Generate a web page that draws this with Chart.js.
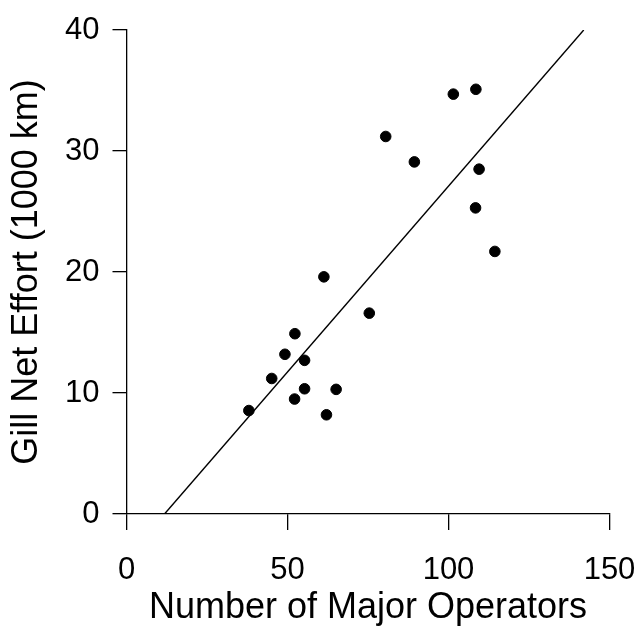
<!DOCTYPE html>
<html>
<head>
<meta charset="utf-8">
<script src="https://cdn.jsdelivr.net/npm/chart.js@4"></script>
<style>
  html, body { margin: 0; padding: 0; background: #fff; }
  #wrap { width: 641px; height: 631px; }
</style>
</head>
<body>
<div id="wrap"><canvas id="gillnet"></canvas></div>
<script>
// number of major operators vs gill net effort (1000 km)
const operators = [38.0, 45.1, 49.2, 52.3, 55.3, 52.2, 55.3, 61.3, 62.1, 65.1, 75.4, 80.5, 89.4, 101.5, 108.5, 109.5, 108.4, 114.4];
const effort    = [8.55, 11.2, 13.2, 14.9, 12.7, 9.5, 10.35, 19.6, 8.2, 10.3, 16.6, 31.2, 29.1, 34.7, 35.1, 28.5, 25.3, 21.7];

// fitted line end points
const fitX = [11.8, 142.0];
const fitY = [0, 40];

const xTicks = [0, 50, 100, 150];
const yTicks = [0, 10, 20, 30, 40];

const fontFamily = "'Liberation Sans', Arial, Helvetica, sans-serif";

new Chart(document.getElementById("gillnet"), {
  type: 'scatter',
  data: {
    datasets: [
      {
        label: "Observed",
        data: operators.map((x, i) => ({x: x, y: effort[i]})),
        backgroundColor: "#000",
        borderColor: "#000",
        pointRadius: 5.3,
        pointHoverRadius: 5.3
      },
      {
        type: 'line',
        label: "Fit",
        data: fitX.map((x, i) => ({x: x, y: fitY[i]})),
        borderColor: "#000",
        borderWidth: 1.4,
        pointRadius: 0,
        fill: false
      }
    ]
  },
  options: {
    responsive: true,
    maintainAspectRatio: false,
    animation: false,
    layout: {
      padding: {top: 30, right: 31.5, bottom: 0, left: 0}
    },
    plugins: {
      legend: {display: false},
      tooltip: {enabled: false}
    },
    scales: {
      x: {
        type: 'linear',
        min: 0,
        max: 150,
        afterBuildTicks: (s) => { s.ticks = xTicks.map(v => ({value: v})); },
        afterFit: (s) => { s.height = 117; s.paddingRight = 0; s.paddingLeft = 0; },
        border: {display: true, color: "#000", width: 1.3},
        grid: {display: true, drawOnChartArea: false, drawTicks: true, tickLength: 16, color: "#000", lineWidth: 1.3},
        ticks: {color: "#000", padding: 22, font: {family: fontFamily, size: 31}},
        title: {
          display: true,
          text: "Number of Major Operators",
          color: "#000",
          padding: {top: 0, bottom: 4.5},
          font: {family: fontFamily, size: 36, lineHeight: 1}
        }
      },
      y: {
        type: 'linear',
        min: 0,
        max: 40,
        afterBuildTicks: (s) => { s.ticks = yTicks.map(v => ({value: v})); },
        afterFit: (s) => { s.width = 126.5; s.paddingTop = 0; s.paddingBottom = 0; },
        border: {display: true, color: "#000", width: 1.3},
        grid: {display: true, drawOnChartArea: false, drawTicks: true, tickLength: 14, color: "#000", lineWidth: 1.3},
        ticks: {color: "#000", padding: 13, font: {family: fontFamily, size: 31}},
        title: {
          display: true,
          text: "Gill Net Effort (1000 km)",
          color: "#000",
          padding: {top: 9.5, bottom: 0},
          font: {family: fontFamily, size: 36, lineHeight: 1}
        }
      }
    }
  }
});
</script>
</body>
</html>
